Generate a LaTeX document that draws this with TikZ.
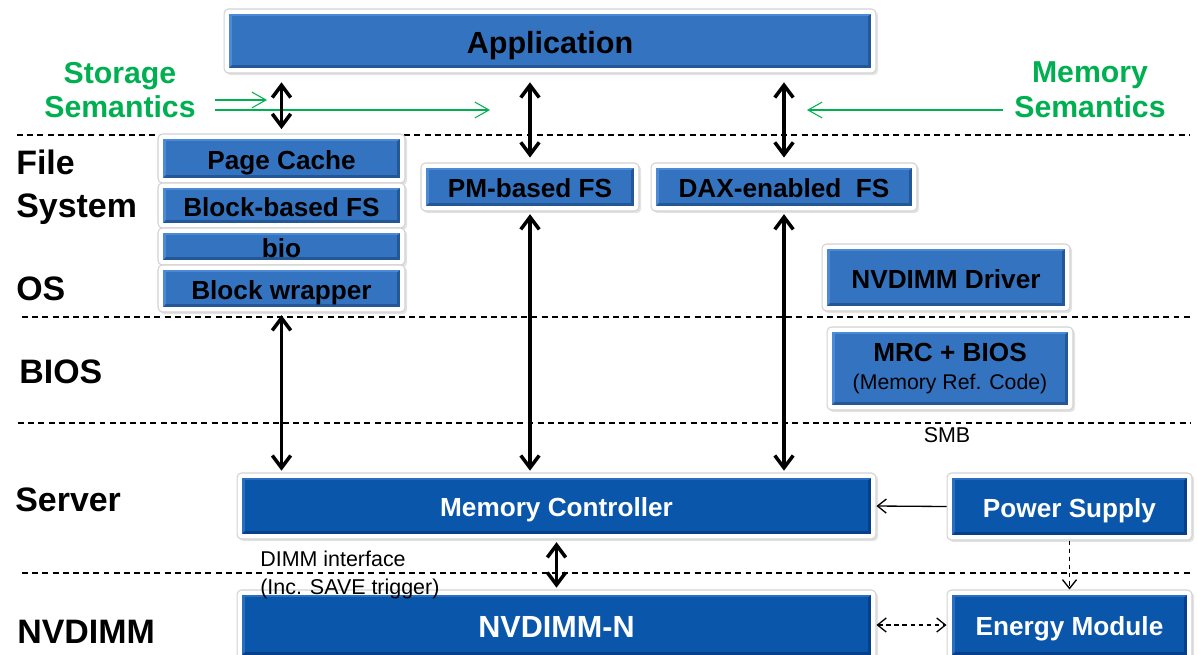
\documentclass[tikz,border=0pt]{standalone}
\usepackage{fontspec}
\setmainfont{Liberation Sans}
\usetikzlibrary{arrows.meta,shadows,calc}
\definecolor{ublue}{HTML}{3473C0}
\definecolor{ubluelt}{HTML}{4C8AD5}
\definecolor{ubluedk}{HTML}{235796}
\definecolor{dblue}{HTML}{0A56AA}
\definecolor{dbluelt}{HTML}{2A6EC0}
\definecolor{dbluedk}{HTML}{07408A}
\definecolor{sgreen}{HTML}{00B050}
\definecolor{framegray}{HTML}{D2D2D2}
\newcommand\fntApp{\fontsize{17.4}{20}\selectfont\bfseries}
\newcommand\fntBox{\fontsize{14.9}{17}\selectfont\bfseries}
\newcommand\fntLay{\fontsize{19.3}{24.4}\selectfont\bfseries}
\newcommand\fntSem{\fontsize{17.2}{19.8}\selectfont\bfseries}
\newcommand\fntSmall{\fontsize{12.2}{16}\selectfont}
\tikzset{
  bevelbox/.style n args={3}{rectangle, draw=framegray, line width=0.6pt, fill=white,
    rounded corners=2.5pt, inner sep=0pt, text height=12.4pt, text depth=0.2pt,
    drop shadow={shadow xshift=1.2pt, shadow yshift=-1.2pt, opacity=0.22},
    path picture={
      \coordinate (bbnw) at ([shift={(2.9pt,-2.9pt)}]path picture bounding box.north west);
      \coordinate (bbse) at ([shift={(-2.9pt,2.9pt)}]path picture bounding box.south east);
      \fill[#3, sharp corners] (bbnw) rectangle (bbse);
      \fill[#2, sharp corners] (bbnw) -- (bbnw -| bbse) -- ++(-1.6pt,-1.2pt)
        -- ($(bbnw)+(1.6pt,-1.2pt)$) -- ($(bbnw |- bbse)+(1.6pt,1.8pt)$) -- (bbnw |- bbse) -- cycle;
      \fill[#1, sharp corners] ($(bbnw)+(1.6pt,-1.2pt)$) rectangle ($(bbse)+(-1.8pt,1.8pt)$);
    }},
  ubox/.style={bevelbox={ublue}{ubluelt}{ubluedk}, text=black, font=\fntBox},
  dbox/.style={bevelbox={dblue}{dbluelt}{dbluedk}, text=white, font=\fntBox},
  bigtext/.style={font=\fntApp, text height=14.3pt, text depth=0.2pt},
  lay/.style={inner sep=0pt, anchor=west, align=left, font=\fntLay},
  sem/.style={inner sep=0pt, align=center, font=\fntSem, text=sgreen},
  smalltext/.style={inner sep=0pt, font=\fntSmall},
  sepline/.style={dash pattern=on 3.4pt off 2.4pt, line width=0.6pt},
  dbl/.style={line width=2pt, {Straight Barb[length=7pt,width=10.5pt]}-{Straight Barb[length=7pt,width=10.5pt]}},
  thinarrow/.style={line width=0.75pt, -{Straight Barb[length=5pt,width=8pt]}},
  thindash/.style={line width=0.75pt, dash pattern=on 2.6pt off 2pt},
  greenarrow/.style={draw=sgreen, line width=0.6pt, -{Straight Barb[length=8pt,width=9pt]}}
}
\begin{document}
\begin{tikzpicture}[x=0.02cm,y=-0.02cm]
\useasboundingbox (0,0) rectangle (1197,654);

% layer separators
\draw[sepline] (17,135) -- (1190,135);
\draw[sepline] (22,317) -- (1190,317);
\draw[sepline] (18,423) -- (1190,423);
\draw[sepline] (22,573) -- (1190,573);

% layer labels
\node[lay] (lfs) at (16,187.5) {File\\System};
\node[lay] (los) at (16,289) {OS};
\node[lay] (lbios) at (19,372) {BIOS};
\node[lay] (lserver) at (15,500) {Server};
\node[lay] (lnv) at (17,632) {NVDIMM};

% semantics labels
\node[sem] (ss) at (120,90) {Storage\\Semantics};
\node[sem] (ms) at (1090,90) {Memory\\Semantics};

% boxes
\node[ubox, bigtext, minimum width=13.04cm, minimum height=1.28cm] (app) at (550,41) {Application};
\node[ubox, minimum width=4.94cm, minimum height=0.98cm] (pc) at (281.5,158.5) {Page Cache};
\node[ubox, minimum width=4.94cm, minimum height=0.90cm] (bfs) at (281.5,205.5) {Block-based FS};
\node[ubox, minimum width=4.94cm, minimum height=0.74cm] (bio) at (281.5,246.5) {bio};
\node[ubox, minimum width=4.94cm, minimum height=0.94cm] (bw) at (281.5,288.5) {Block wrapper};
\node[ubox, minimum width=4.36cm, minimum height=0.96cm] (pm) at (530,187) {PM-based FS};
\node[ubox, minimum width=5.32cm, minimum height=0.96cm] (dax) at (784,187) {DAX-enabled\ \ FS};
\node[ubox, minimum width=4.96cm, minimum height=1.34cm] (drv) at (946,277.5) {NVDIMM Driver};
\node[ubox, align=center, text height=, text depth=, minimum width=4.92cm, minimum height=1.66cm] (mrc) at (950,368.5)
  {MRC + BIOS\\[-1pt]{\fontsize{12.1}{14}\selectfont\mdseries (Memory Ref. Code)}};
\node[dbox, minimum width=12.78cm, minimum height=1.32cm] (mc) at (556.5,506) {Memory Controller};
\node[dbox, minimum width=4.90cm, minimum height=1.34cm] (ps) at (1069.5,506.5) {Power Supply};
\node[dbox, bigtext, minimum width=12.78cm, minimum height=1.40cm] (nv) at (556.5,625) {NVDIMM-N};
\node[dbox, minimum width=4.90cm, minimum height=1.40cm] (em) at (1069.5,625) {Energy Module};

% small texts
\node[smalltext] (smb) at (947,435) {SMB};
\node[smalltext, anchor=west, align=left] (dimm) at (260,575) {DIMM interface\\(Inc. SAVE trigger)};

% green semantics arrows
\coordinate (g1a) at (215,100); \coordinate (g1b) at (267,100);
\coordinate (g2a) at (215,110); \coordinate (g2b) at (490,110);
\coordinate (g3a) at (1003,110); \coordinate (g3b) at (807,110);
\draw[greenarrow] (g1a) -- (g1b);
\draw[greenarrow] (g2a) -- (g2b);
\draw[greenarrow] (g3a) -- (g3b);

% black double arrows
\draw[dbl, shorten <=5pt, shorten >=2.5pt] (app.south -| pc.north) -- (pc.north);
\draw[dbl, shorten <=5pt, shorten >=2.8pt] (app.south -| pm.north) -- (pm.north);
\draw[dbl, shorten <=5pt, shorten >=2.8pt] (app.south -| dax.north) -- (dax.north);
\draw[dbl, shorten <=1.5pt, shorten >=1pt] (bw.south) -- (bw.south |- mc.north);
\draw[dbl, shorten <=1.5pt, shorten >=1pt] (pm.south) -- (pm.south |- mc.north);
\draw[dbl, shorten <=1.5pt, shorten >=1pt] (dax.south) -- (dax.south |- mc.north);
\draw[dbl, shorten <=1.5pt, shorten >=1pt] (mc.south) -- (nv.north);

% thin arrows
\draw[thinarrow] (ps.west) -- (mc.east);
\draw[thinarrow, thindash] (ps.south) -- (em.north);
\draw[thinarrow, thindash, {Straight Barb[length=5pt,width=8pt]}-{Straight Barb[length=5pt,width=8pt]}] (nv.east) -- (em.west);
\end{tikzpicture}
\end{document}
